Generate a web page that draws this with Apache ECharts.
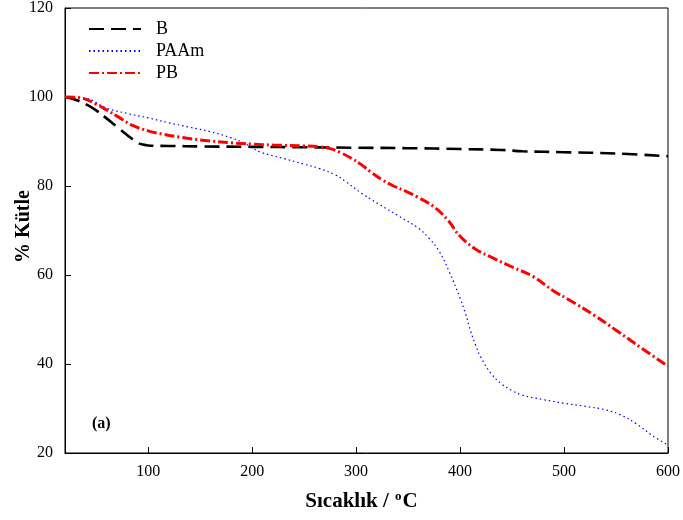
<!DOCTYPE html>
<html>
<head>
<meta charset="utf-8">
<script src="https://cdn.jsdelivr.net/npm/echarts@6/dist/echarts.min.js"></script>
<style>html,body{margin:0;padding:0;background:#fff}#c{width:683px;height:520px}</style>
</head>
<body>
<div id="c"></div>
<script>
var xTicks = [100, 200, 300, 400, 500, 600];
var B_T = [20,30,40,50,60,70,80,90,95,100,120,150,200,250,300,350,400,440,460,500,550,600];
var B_V = [100,99.4,98.4,97.0,95.2,93.3,91.4,89.7,89.3,89.1,89.0,88.9,88.8,88.7,88.6,88.5,88.3,88.1,87.8,87.6,87.3,86.7];
var PAAm_T = [20,40,60,80,100,120,140,160,180,192,200,208,230,250,265,280,290,305,320,340,360,370,380,390,400,405,410,415,420,430,440,450,460,480,500,520,540,555,570,585,600];
var PAAm_V = [100,99.7,97.5,96.3,95.3,94.2,93.2,92.2,90.8,89.7,88.6,87.6,86.2,84.9,83.9,82.5,81.0,78.4,76.2,73.4,70.5,68.3,65.3,60.5,54.8,51.5,47.5,44.2,41.5,37.8,35.5,34.0,33.0,32.0,31.2,30.5,29.7,28.5,26.5,23.9,21.8];
var PB_T = [20,35,50,60,70,85,100,115,130,145,160,180,200,220,250,265,275,285,295,305,315,325,336,348,360,375,388,400,415,430,450,470,490,505,530,550,575,600];
var PB_V = [100,99.8,98.4,97.1,95.7,93.6,92.4,91.6,91.0,90.5,90.1,89.7,89.4,89.2,89.0,88.8,88.4,87.5,86.3,84.8,83.0,81.4,80.0,78.8,77.4,75.3,72.4,68.7,65.8,64.0,61.8,59.7,56.4,54.4,50.8,47.6,43.5,39.5];

function pairs(t, v) { return t.map(function (x, i) { return [x, v[i]]; }); }

var serif = 'Liberation Serif';
var chart = echarts.init(document.getElementById('c'), null, {renderer: 'canvas'});
chart.setOption({
  animation: false,
  backgroundColor: '#fff',
  grid: {left: 65, right: 15, top: 8, bottom: 67, show: true, borderColor: '#000', borderWidth: 1, outerBoundsMode: 'none', containLabel: false},
  legend: {
    left: 83, top: 15, orient: 'vertical', itemWidth: 52, itemHeight: 14, itemGap: 4,
    itemStyle: {opacity: 0},
    textStyle: {fontFamily: serif, fontSize: 18, lineHeight: 18, color: '#000', padding: [0, 0, 0, 10]},
    data: ['B', 'PAAm', 'PB']
  },
  xAxis: {
    type: 'value', min: 20, max: 600,
    name: '{b|Sıcaklık / }{s|o}{b|C}', nameLocation: 'middle', nameGap: 37, nameMoveOverlap: false,
    nameTextStyle: {padding: [0, 10, 0, 0], rich: {
      b: {fontFamily: serif, fontSize: 21, fontWeight: 'bold', color: '#000'},
      s: {fontFamily: serif, fontSize: 13, fontWeight: 'bold', color: '#000', verticalAlign: 'top', padding: [0, 1, 11, 1]}
    }},
    axisLine: {lineStyle: {color: '#000', width: 1}},
    axisTick: {inside: true, length: 6, customValues: xTicks, lineStyle: {color: '#000'}},
    axisLabel: {customValues: xTicks, margin: 11, fontFamily: serif, fontSize: 16, color: '#000'},
    splitLine: {show: false}
  },
  yAxis: {
    type: 'value', min: 20, max: 120, interval: 20,
    name: '% Kütle', nameLocation: 'middle', nameGap: 31, nameMoveOverlap: false,
    nameTextStyle: {fontFamily: serif, fontSize: 20, fontWeight: 'bold', color: '#000', padding: [0, 0, 0, 8]},
    axisLine: {lineStyle: {color: '#000', width: 1}},
    axisTick: {inside: true, length: 6, lineStyle: {color: '#000'}},
    axisLabel: {margin: 12, fontFamily: serif, fontSize: 16, color: '#000'},
    splitLine: {show: false}
  },
  graphic: [{type: 'text', left: 92, top: 416, style: {text: '(a)', font: 'bold 16px "Liberation Serif"', fill: '#000'}}],
  series: [
    {name: 'B', type: 'line', data: pairs(B_T, B_V), smooth: 0.4, symbol: 'none',
     lineStyle: {color: '#000', width: 2.6, type: [15, 7]}, itemStyle: {color: '#000'}},
    {name: 'PAAm', type: 'line', data: pairs(PAAm_T, PAAm_V), smooth: 0.4, symbol: 'none',
     lineStyle: {color: '#0000ff', width: 1.2, type: [1.5, 3]}, itemStyle: {color: '#0000ff'}},
    {name: 'PB', type: 'line', data: pairs(PB_T, PB_V), smooth: 0.4, symbol: 'none',
     lineStyle: {color: '#ff0000', width: 3, type: [10, 3, 2, 3]}, itemStyle: {color: '#ff0000'}}
  ]
});
</script>
</body>
</html>
